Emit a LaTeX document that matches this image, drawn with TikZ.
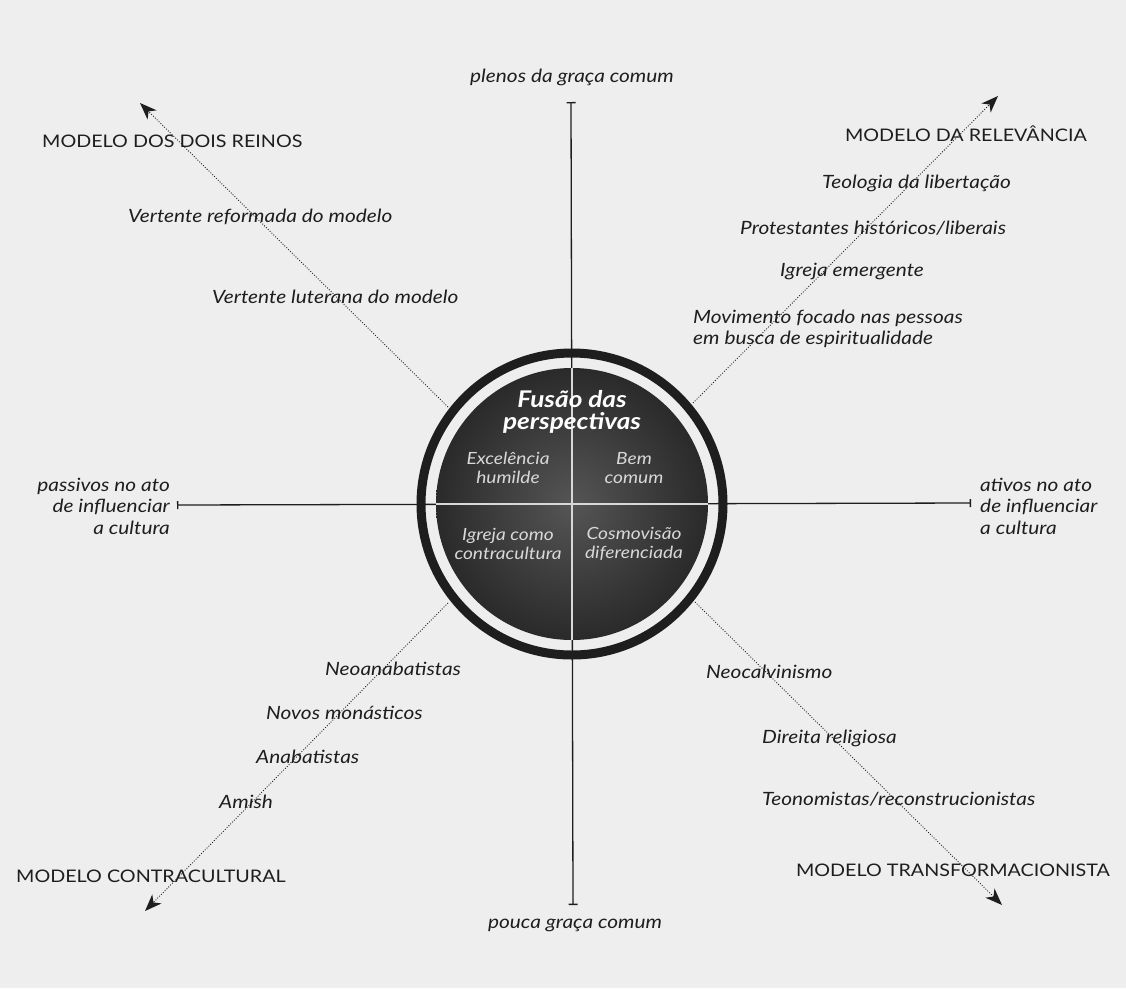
\documentclass[tikz,border=0pt]{standalone}
\usepackage{fontspec}
\setmainfont{Lato}[FakeStretch=1.14]
\usetikzlibrary{arrows.meta}
\definecolor{bg}{HTML}{EEEEEE}
\definecolor{ink}{HTML}{1E1E1E}
\definecolor{disc}{HTML}{2A2A2A}
\definecolor{discin}{HTML}{555555}
\definecolor{pale}{HTML}{D8D8D8}
\begin{document}
\begin{tikzpicture}[x=1pt,y=-1pt,
  lab/.style={font=\fontsize{18.3}{21.5}\selectfont\itshape, text=ink, inner sep=0pt},
  model/.style={font=\fontsize{17.3}{20}\selectfont, text=ink, inner sep=0pt},
  diag/.style={line width=0.9pt, draw=ink, dash pattern=on 0.9pt off 1.7pt,
    -{Stealth[length=17pt,width=13pt,inset=5pt,line width=0pt]}},
  axis/.style={line width=1.3pt, draw=ink},
  quad/.style={font=\fontsize{16.8}{18.5}\selectfont\itshape, text=pale, align=center, inner sep=0pt},
]
\useasboundingbox (0,0) rectangle (1126,988);
\fill[bg] (0,0) rectangle (1126,988);

% axes
\coordinate (top) at (571,102);
\coordinate (bot) at (573,905);
\coordinate (lft) at (177,505);
\coordinate (rgt) at (971,503);
\coordinate (c) at (572,504);
\draw[axis, {Bar[width=9pt]}-{Bar[width=9pt]}] (top) -- (bot);
\draw[axis, {Bar[width=8pt]}-{Bar[width=8pt]}] (lft) -- (rgt);

% ring and disc
\draw[ink, line width=9pt] (c) circle (151);
\shade[inner color=discin, outer color=disc] (c) circle (136);
\draw[pale, line width=1.1pt] (572,368) -- (572,640);
\draw[pale, line width=1.1pt] (436,504) -- (708,504);

% diagonal connectors
\coordinate (nw0) at (448,407); \coordinate (nw1) at (140,103);
\coordinate (ne0) at (693,403); \coordinate (ne1) at (998,96);
\coordinate (se0) at (695,602); \coordinate (se1) at (1002,905);
\coordinate (sw0) at (448,603); \coordinate (sw1) at (145,911);
\draw[diag] (nw0) -- (nw1);
\draw[diag] (ne0) -- (ne1);
\draw[diag] (se0) -- (se1);
\draw[diag] (sw0) -- (sw1);

% center texts
\node[font=\fontsize{23}{22}\selectfont\bfseries\itshape, text=white, align=center, inner sep=0pt] (fus) at (572,412) {Fusão das\\perspectivas};
\node[quad] (exc) at (508,468) {Excelência\\humilde};
\node[quad] (bem) at (634,468) {Bem\\comum};
\node[quad] (igr) at (508,544) {Igreja como\\contracultura};
\node[quad] (cos) at (634,544) {Cosmovisão\\diferenciada};

% axis labels
\node[lab] (pl) at (572,77) {plenos da graça comum};
\node[lab] (pc) at (575,925) {pouca graça comum};
\node[lab, align=right, anchor=east] (pas) at (170,506) {passivos no ato\\de influenciar\\a cultura};
\node[lab, align=left, anchor=west] (ati) at (980,506) {ativos no ato\\de influenciar\\a cultura};

% model titles
\node[model, anchor=west] (m1) at (42,141) {MODELO DOS DOIS REINOS};
\node[model, anchor=east] (m2) at (1087,134) {MODELO DA RELEVÂNCIA};
\node[model, anchor=west] (m3) at (16,876) {MODELO CONTRACULTURAL};
\node[model, anchor=east] (m4) at (1110,870) {MODELO TRANSFORMACIONISTA};

% examples
\node[lab, anchor=west] at (128,217) {Vertente reformada do modelo};
\node[lab, anchor=west] at (212,297) {Vertente luterana do modelo};
\node[lab, anchor=west] at (822,183) {Teologia da libertação};
\node[lab, anchor=west] at (740,228) {Protestantes históricos/liberais};
\node[lab, anchor=west] at (780,271) {Igreja emergente};
\node[lab, anchor=west, align=left] at (693,329) {Movimento focado nas pessoas\\em busca de espiritualidade};
\node[lab, anchor=west] at (325,669) {Neoanabatistas};
\node[lab, anchor=west] at (266,713) {Novos monásticos};
\node[lab, anchor=west] at (256,757) {Anabatistas};
\node[lab, anchor=west] at (219,802) {Amish};
\node[lab, anchor=west] at (706,672) {Neocalvinismo};
\node[lab, anchor=west] at (762,738) {Direita religiosa};
\node[lab, anchor=west] at (762,799) {Teonomistas/reconstrucionistas};
\end{tikzpicture}
\end{document}
